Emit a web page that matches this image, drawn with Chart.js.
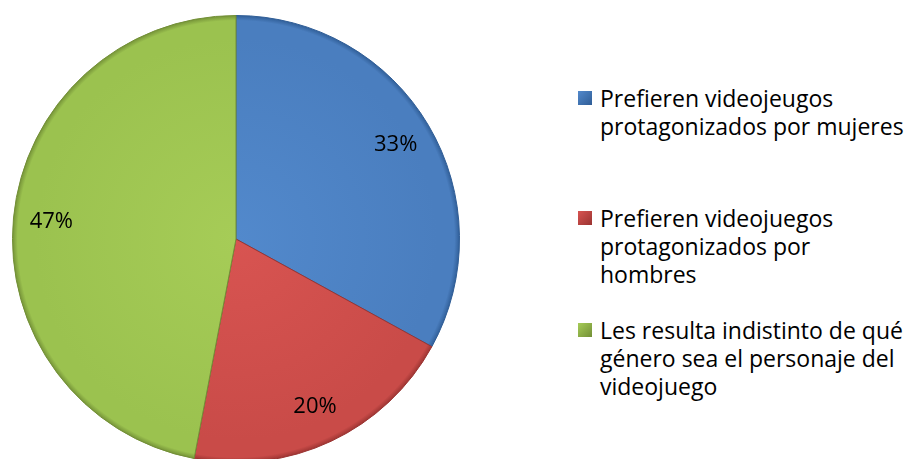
<!DOCTYPE html>
<html lang="es">
<head>
  <meta charset="UTF-8">
  <title>Preferencias videojuegos</title>
  <script src="https://cdn.jsdelivr.net/npm/chart.js"></script>
  <style>
    html, body {
      margin: 0;
      padding: 0;
      background: #fff;
      overflow: hidden;
      width: 907px;
      height: 459px;
    }
    #pieBox {
      position: absolute;
      left: 0;
      top: 0;
      width: 472px;
      height: 478px;
    }
    #legend {
      position: absolute;
      left: 577px;
      top: 0;
      font-family: "Open Sans", sans-serif;
      font-size: 23px;
      line-height: 28px;
      color: #000;
    }
    #legend .item {
      position: absolute;
      left: 0;
      white-space: nowrap;
    }
    #legend .box {
      position: absolute;
      left: 1px;
      top: 7px;
      width: 14px;
      height: 14px;
    }
    #legend .txt {
      margin-left: 23px;
    }
  </style>
</head>
<body>
  <div id="pieBox"><canvas id="pie"></canvas></div>
  <div id="legend"></div>

  <script>
    const categories = [
      ['Prefieren videojeugos', 'protagonizados por mujeres'],
      ['Prefieren videojuegos', 'protagonizados por', 'hombres'],
      ['Les resulta indistinto de qué', 'género sea el personaje del', 'videojuego']
    ];
    const values = [33, 20, 47];

    const baseColors = ['#4a7ebf', '#c94b48', '#9bc24f'];
    const lightColors = ['#5289cc', '#d85451', '#a6cc57'];
    const darkColors = ['#2f5d96', '#9a3331', '#728f36'];
    const legendTops = [84, 204, 316];

    const total = values.reduce((a, b) => a + b, 0);

    function sliceFill(context) {
      const chart = context.chart;
      const area = chart.chartArea;
      if (!area) return baseColors[context.dataIndex];
      const cx = (area.left + area.right) / 2;
      const cy = (area.top + area.bottom) / 2;
      const r = Math.min(area.right - area.left, area.bottom - area.top) / 2;
      const g = chart.ctx.createRadialGradient(cx, cy, 0, cx, cy, r);
      const i = context.dataIndex;
      g.addColorStop(0, lightColors[i]);
      g.addColorStop(0.9, baseColors[i]);
      g.addColorStop(0.975, baseColors[i]);
      g.addColorStop(1, darkColors[i]);
      return g;
    }

    const percentLabels = {
      id: 'percentLabels',
      afterDatasetsDraw(chart) {
        const ctx = chart.ctx;
        const meta = chart.getDatasetMeta(0);
        ctx.save();
        ctx.font = '22px "Open Sans", sans-serif';
        ctx.fillStyle = '#000';
        ctx.textAlign = 'center';
        ctx.textBaseline = 'middle';
        meta.data.forEach((arc, i) => {
          const mid = (arc.startAngle + arc.endAngle) / 2;
          const rr = arc.outerRadius * 0.83;
          const x = arc.x + Math.cos(mid) * rr;
          const y = arc.y + Math.sin(mid) * rr;
          ctx.fillText(Math.round(values[i] / total * 100) + '%', x, y);
        });
        ctx.restore();
      }
    };

    new Chart(document.getElementById('pie'), {
      type: 'pie',
      data: {
        labels: categories.map(c => c.join(' ')),
        datasets: [{
          data: values,
          backgroundColor: sliceFill,
          borderColor: darkColors,
          borderWidth: 1
        }]
      },
      options: {
        responsive: true,
        maintainAspectRatio: false,
        animation: false,
        layout: { padding: { left: 12, right: 12, top: 15, bottom: 15 } },
        plugins: {
          legend: { display: false },
          tooltip: { enabled: false }
        }
      },
      plugins: [percentLabels]
    });

    const legend = document.getElementById('legend');
    categories.forEach((lines, i) => {
      const item = document.createElement('div');
      item.className = 'item';
      item.style.top = legendTops[i] + 'px';
      const box = document.createElement('span');
      box.className = 'box';
      box.style.background = 'linear-gradient(135deg, ' + lightColors[i] + ', ' + darkColors[i] + ')';
      const txt = document.createElement('div');
      txt.className = 'txt';
      txt.innerHTML = lines.join('<br>');
      item.appendChild(box);
      item.appendChild(txt);
      legend.appendChild(item);
    });
  </script>
</body>
</html>
